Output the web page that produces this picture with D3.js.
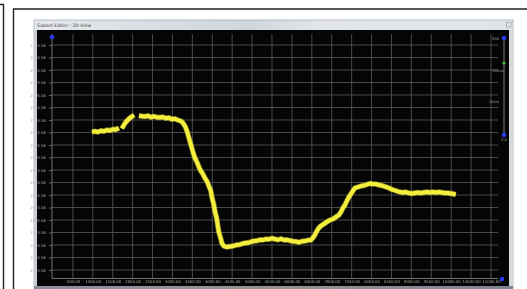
<!DOCTYPE html>
<html lang="en">
<head>
    <meta charset="UTF-8">
    <title>Subset Editor - 2D View</title>
    <script src="https://d3js.org/d3.v7.min.js"></script>
    <style>
        body { margin: 0; background: white; overflow: hidden; }
        text { font-family: "DejaVu Sans", sans-serif; }
    </style>
</head>
<body>
    <svg id="svg1" width="527" height="289"></svg>

    <script>
        // data ----------------------------------------------------------------
        const xTicks = [500, 1000, 1500, 2000, 2500, 3000, 3500, 4000, 4500, 5000, 5500,
                        6000, 6500, 7000, 7500, 8000, 8500, 9000, 9500, 10000, 10500, 11000];
        const yTicks = [2415.56, 2435.56, 2455.56, 2475.56, 2495.56, 2515.56, 2535.56, 2555.56,
                        2575.56, 2595.56, 2615.56, 2635.56, 2655.56, 2675.56, 2695.56, 2715.56,
                        2735.56, 2755.56, 2775.56];
        const sliderLabels = ["800", "200", "100m", "0.0"];

        // trace, null = gap in the recording
        const traceX = [980, 1055, 1130, 1205, 1280, 1355, 1430, 1505, 1580, 1655, 1695,
            1730, 1780, 1830, 1880, 1930, 1985, 2035, 2100,
            2160, 2235, 2310, 2385, 2460, 2535, 2610, 2685, 2760, 2835, 2910, 2985, 3060, 3135,
            3210, 3265, 3315, 3365, 3415, 3465, 3515, 3565, 3615, 3665, 3715, 3765, 3815, 3865,
            3915, 3965, 3990, 4040, 4065, 4115, 4140, 4165, 4215, 4240, 4290, 4365, 4445, 4520,
            4595, 4670, 4745, 4820, 4895, 4970, 5045, 5120, 5195, 5270, 5345, 5420, 5495, 5570,
            5650, 5725, 5800, 5875, 5950, 6025, 6100, 6175, 6250, 6325, 6400, 6475, 6525, 6575,
            6625, 6675, 6725, 6800, 6875, 6955, 7030, 7105, 7180, 7230, 7280, 7330, 7380, 7430,
            7480, 7530, 7580, 7655, 7730, 7805, 7880, 7955, 8030, 8105, 8185, 8260, 8335, 8410,
            8485, 8560, 8635, 8710, 8785, 8860, 8935, 9010, 9085, 9160, 9235, 9310, 9390, 9465,
            9540, 9615, 9690, 9765, 9840, 9915, 9990, 10065, 10115];
        const traceY = [2554.8, 2553.6, 2554.8, 2552.8, 2553.6, 2551.6, 2552.4, 2550.4, 2550.8, 2548.4, null,
            2549.2, 2543.6, 2538.8, 2535.6, 2532.4, 2530.0, 2527.6, null,
            2528.4, 2529.6, 2530.0, 2528.8, 2531.2, 2529.6, 2531.2, 2531.6, 2530.8, 2532.8, 2532.0, 2534.4, 2533.6, 2535.6,
            2537.2, 2540.4, 2545.2, 2553.2, 2564.4, 2575.6, 2586.8, 2596.4, 2602.8, 2610.8, 2617.2, 2622.0, 2628.4, 2633.2,
            2641.2, 2649.2, 2658.8, 2671.6, 2681.2, 2694.0, 2705.2, 2714.8, 2726.0, 2732.4, 2737.2, 2738.8, 2738.0, 2737.2,
            2735.6, 2735.2, 2733.6, 2732.4, 2732.0, 2730.4, 2729.2, 2728.8, 2727.2, 2727.6, 2726.0, 2726.4, 2724.8, 2726.0,
            2727.2, 2725.6, 2727.6, 2727.2, 2728.4, 2729.6, 2730.0, 2731.2, 2729.6, 2729.2, 2728.0, 2727.6, 2724.4, 2719.6,
            2713.2, 2708.4, 2705.2, 2702.0, 2698.8, 2695.6, 2694.0, 2690.8, 2687.6, 2682.8, 2676.4, 2671.6, 2665.2, 2658.8,
            2654.0, 2649.2, 2644.4, 2642.8, 2641.2, 2640.4, 2638.8, 2637.2, 2638.0, 2638.0, 2639.6, 2640.4, 2642.0, 2643.6,
            2646.0, 2647.6, 2649.2, 2650.8, 2651.6, 2650.8, 2652.4, 2653.2, 2652.4, 2651.6, 2652.4, 2651.6, 2650.8, 2651.6,
            2650.8, 2651.6, 2650.8, 2651.6, 2652.4, 2652.4, 2653.2, 2654.0, 2654.8];

        // frame ---------------------------------------------------------------
        const svg = d3.select("svg#svg1");

        // document border lines
        svg.append("path").attr("d", "M0,4.5H3.5V289").attr("fill", "none").attr("stroke", "#222").attr("stroke-width", 1.4);
        svg.append("path").attr("d", "M13.5,289V9H527").attr("fill", "none").attr("stroke", "#222").attr("stroke-width", 1.4);

        // window
        const win = {x: 34, y: 20, w: 479, h: 269};
        const defs = svg.append("defs");
        const tg = defs.append("linearGradient").attr("id", "title").attr("x1", 0).attr("x2", 1);
        tg.append("stop").attr("offset", "0%").attr("stop-color", "#e4e8ec");
        tg.append("stop").attr("offset", "45%").attr("stop-color", "#cfd6dc");
        tg.append("stop").attr("offset", "60%").attr("stop-color", "#e2e6e9");
        tg.append("stop").attr("offset", "100%").attr("stop-color", "#dfe4e8");
        const glow = defs.append("filter").attr("id", "blur");
        glow.append("feGaussianBlur").attr("stdDeviation", 0.45);

        svg.append("rect").attr("x", win.x).attr("y", win.y).attr("width", win.w).attr("height", win.h)
            .attr("fill", "url(#title)").attr("stroke", "#a8aeb4").attr("stroke-width", 0.8);
        svg.append("text").attr("x", 37).attr("y", 27).attr("font-size", 4.6).attr("fill", "#444")
            .text("Subset Editor - 2D View");
        svg.append("rect").attr("x", 506.5).attr("y", 22.5).attr("width", 4.5).attr("height", 4.5)
            .attr("fill", "none").attr("stroke", "#999").attr("stroke-width", 0.6);

        // black plot surface
        svg.append("rect").attr("x", 37).attr("y", 30).attr("width", 472).attr("height", 256).attr("fill", "#050505");
        const bottomBar = defs.append("linearGradient").attr("id", "bar").attr("x1", 0).attr("x2", 1);
        bottomBar.append("stop").attr("offset", "0%").attr("stop-color", "#8a8f9c");
        bottomBar.append("stop").attr("offset", "50%").attr("stop-color", "#9a8f98");
        bottomBar.append("stop").attr("offset", "100%").attr("stop-color", "#7c8490");
        svg.append("rect").attr("x", 34).attr("y", 286).attr("width", 479).attr("height", 3).attr("fill", "url(#bar)");

        // scales --------------------------------------------------------------
        const xScale = d3.scaleLinear().domain([0, 11000]).range([53, 491]);
        const yScale = d3.scaleLinear().domain([yTicks[0], yTicks[yTicks.length - 1]]).range([45, 270]);
        const plotTop = 34, plotBottom = 278.5, plotLeft = 52, plotRight = 498;

        const chart = svg.append("g").attr("filter", "url(#blur)");

        // grid
        chart.append("g").selectAll("line").data(xTicks).join("line")
            .attr("x1", d => xScale(d)).attr("x2", d => xScale(d))
            .attr("y1", plotTop).attr("y2", plotBottom)
            .attr("stroke", "#5a5a5a").attr("stroke-width", 0.8);
        chart.append("g").selectAll("line").data(yTicks).join("line")
            .attr("x1", plotLeft).attr("x2", plotRight)
            .attr("y1", d => yScale(d)).attr("y2", d => yScale(d))
            .attr("stroke", "#5a5a5a").attr("stroke-width", 0.8);

        // axes
        const axisY = d3.axisLeft(yScale).tickValues(yTicks).tickSize(3).tickFormat(d3.format(".2f"));
        const gy = chart.append("g").attr("transform", `translate(${plotLeft},0)`).call(axisY);
        const axisX = d3.axisBottom(xScale).tickValues(xTicks).tickSize(0).tickPadding(2).tickFormat(d3.format(".2f"));
        const gx = chart.append("g").attr("transform", `translate(0,${plotBottom})`).call(axisX);
        [gx, gy].forEach(g => {
            g.select(".domain").attr("stroke", "#8a8a8a").attr("stroke-width", 0.8);
            g.selectAll(".tick line").attr("stroke", "#999").attr("stroke-width", 0.6);
            g.selectAll("text").attr("fill", "#a8a8a8").attr("font-size", 3.8).attr("font-family", "DejaVu Sans");
        });
        gy.select(".domain").attr("d", `M0,${plotTop}V${plotBottom}`);
        gx.select(".domain").attr("d", `M${plotLeft},0H${plotRight}`);

        // range handles
        chart.append("circle").attr("cx", plotLeft).attr("cy", 37).attr("r", 2.2).attr("fill", "#2a3cff");
        chart.append("circle").attr("cx", 502).attr("cy", 279).attr("r", 2.2).attr("fill", "#2a3cff");

        // right slider
        const sliderScale = d3.scaleLinear().domain([0, 3]).range([38, 135]);
        chart.append("line").attr("x1", 504).attr("x2", 504).attr("y1", 38).attr("y2", 135)
            .attr("stroke", "#9a9a9a").attr("stroke-width", 0.8);
        chart.append("g").selectAll("text").data(sliderLabels.slice(0, 3)).join("text")
            .attr("x", 499).attr("y", (d, i) => [40, 72, 103][i])
            .attr("text-anchor", "end").attr("font-size", 3.6).attr("fill", "#999").text(d => d);
        chart.append("line").attr("x1", 499.5).attr("x2", 504).attr("y1", 71).attr("y2", 71)
            .attr("stroke", "#aaa").attr("stroke-width", 0.7);
        chart.append("text").attr("x", 504).attr("y", 141).attr("text-anchor", "middle")
            .attr("font-size", 3.6).attr("fill", "#999").text(sliderLabels[3]);
        chart.append("circle").attr("cx", 504).attr("cy", sliderScale(0)).attr("r", 2.2).attr("fill", "#2a3cff");
        chart.append("circle").attr("cx", 504).attr("cy", 63).attr("r", 1.6).attr("fill", "#39c43a");
        chart.append("circle").attr("cx", 504).attr("cy", sliderScale(3)).attr("r", 2.2).attr("fill", "#2a3cff");

        // trace
        const points = traceX.map((x, i) => ({x: x, y: traceY[i]}));
        const line = d3.line().defined(d => d.y !== null).x(d => xScale(d.x)).y(d => yScale(d.y));
        chart.append("path").datum(points).attr("d", line).attr("fill", "none")
            .attr("stroke", "#e8e23a").attr("stroke-width", 5.4).attr("stroke-opacity", 0.55)
            .attr("stroke-linejoin", "round");
        chart.append("path").datum(points).attr("d", line).attr("fill", "none")
            .attr("stroke", "#f4ee3e").attr("stroke-width", 4).attr("stroke-linejoin", "round");

        // window side borders
        svg.append("rect").attr("x", 34).attr("y", 30).attr("width", 3).attr("height", 256).attr("fill", "#c9ced3");
        svg.append("rect").attr("x", 509).attr("y", 30).attr("width", 4).attr("height", 256).attr("fill", "#d6dadd");
    </script>
</body>
</html>
